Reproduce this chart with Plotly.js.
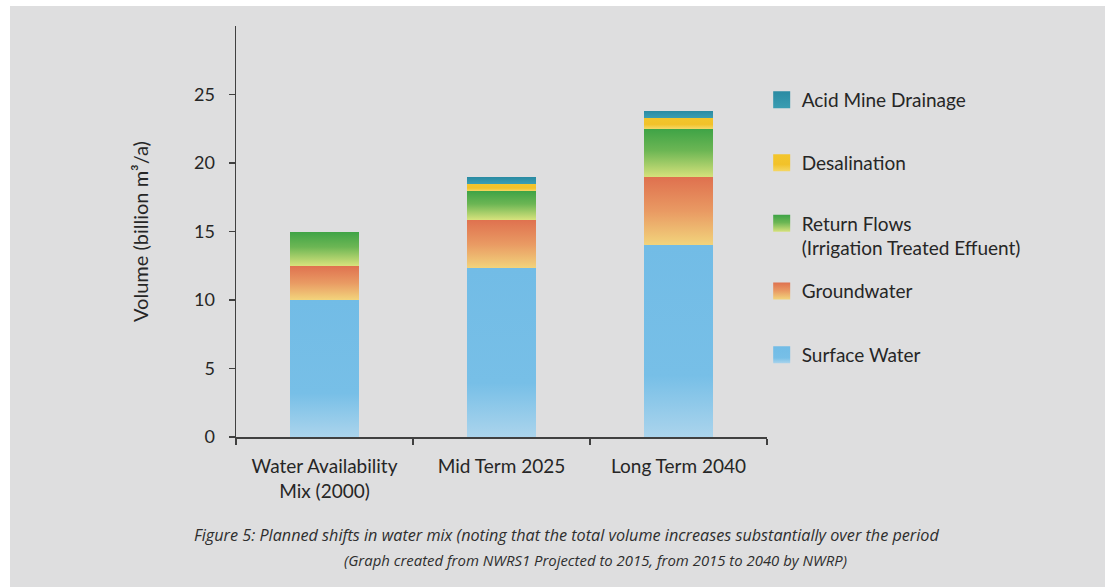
<!DOCTYPE html>
<html>
<head>
<meta charset="utf-8">
<script src="https://cdn.plot.ly/plotly-3.0.1.min.js"></script>
<style>
  html, body { margin: 0; padding: 0; background: #ffffff; width: 1105px; height: 587px; overflow: hidden; }
  #chart { position: absolute; left: 10px; top: 6px; width: 1095px; height: 581px; }
</style>
</head>
<body>
<div id="chart"></div>
<script>
// ---- data ----
var categories = ["Water Availability<br>Mix (2000)", "Mid Term 2025", "Long Term 2040"];
var surfaceWater = [10.0, 12.3, 14.0];
var groundwater = [2.5, 3.55, 4.95];
var returnFlows = [2.5, 2.1, 3.55];
var desalination = [0, 0.55, 0.8];
var acidMineDrainage = [0, 0.45, 0.5];
var yTickValues = [0, 5, 10, 15, 20, 25];
var seriesNames = ["Surface Water", "Groundwater", "Return Flows<br>(Irrigation Treated Effuent)", "Desalination", "Acid Mine Drainage"];

// ---- styles ----
var gradients = [
  [[0, "#72bce6"], [0.68, "#77bfe7"], [1, "#abd4ec"]],
  [[0, "#df714f"], [0.5, "#e99a63"], [1, "#f2d47c"]],
  [[0, "#3ea346"], [0.45, "#6cb654"], [1, "#d7e27c"]],
  [[0, "#f3c52c"], [0.6, "#f2c22a"], [1, "#f5d765"]],
  [[0, "#2a8ba3"], [1, "#3a9db2"]]
];
var baseColors = ["#76bee6", "#e78a5a", "#5aae4e", "#f2c52e", "#2f93a9"];
var legendY = [0.1995, 0.355, 0.489, 0.667, 0.820];
var legendIds = ["legend5", "legend4", "legend3", "legend2", "legend"];

var values = [surfaceWater, groundwater, returnFlows, desalination, acidMineDrainage];
var font = "Lato, 'Open Sans', sans-serif";
var textColor = "#262626";

var traces = values.map(function (v, i) {
  return {
    type: "bar",
    name: seriesNames[i],
    x: categories,
    y: v,
    width: 0.39,
    legend: legendIds[i],
    marker: { color: baseColors[i], line: { width: 0 } },
    hoverinfo: "skip"
  };
});

var layout = {
  width: 1095,
  height: 581,
  margin: { l: 226, r: 338, t: 20, b: 150 },
  paper_bgcolor: "#dededf",
  plot_bgcolor: "rgba(0,0,0,0)",
  barmode: "stack",
  font: { family: font, size: 19, color: textColor },
  xaxis: {
    type: "category",
    range: [-0.5, 2.5],
    showgrid: false,
    zeroline: false,
    showline: true,
    linecolor: "#404040",
    linewidth: 1.5,
    ticks: "outside",
    tickson: "boundaries",
    ticklen: 6,
    tickcolor: "#404040",
    tickwidth: 1.5,
    ticklabelstandoff: 12,
    tickfont: { family: font, size: 19, color: textColor },
    fixedrange: true
  },
  yaxis: {
    range: [0, 30],
    tickvals: yTickValues,
    showgrid: false,
    zeroline: false,
    showline: true,
    linecolor: "#404040",
    linewidth: 1.5,
    ticks: "outside",
    ticklen: 6,
    tickcolor: "#404040",
    tickwidth: 1.5,
    ticklabelstandoff: 10,
    tickfont: { family: font, size: 18, color: textColor },
    title: { text: "Volume (billion m³/a)", font: { family: font, size: 20, color: textColor }, standoff: 40 },
    fixedrange: true
  },
  annotations: [
    {
      xref: "paper", yref: "paper", x: 0.623, y: -0.238, xanchor: "center", yanchor: "middle",
      showarrow: false,
      text: "<i>Figure 5: Planned shifts in water mix (noting that the total volume increases substantially over the period</i>",
      font: { family: "'Open Sans', Lato, sans-serif", size: 16.2, color: "#2e2e2e" }
    },
    {
      xref: "paper", yref: "paper", x: 0.6775, y: -0.299, xanchor: "center", yanchor: "middle",
      showarrow: false,
      text: "<i>(Graph created from NWRS1 Projected to 2015, from 2015 to 2040 by NWRP)</i>",
      font: { family: "'Open Sans', Lato, sans-serif", size: 14.9, color: "#2e2e2e" }
    }
  ],
  showlegend: true
};

legendIds.forEach(function (id, i) {
  layout[id] = {
    x: 0.99, y: legendY[i], xanchor: "left", yanchor: "middle",
    valign: "top",
    bgcolor: "rgba(0,0,0,0)",
    borderwidth: 0,
    font: { family: font, size: 19, color: textColor },
    itemclick: false, itemdoubleclick: false
  };
});

function traceIndexOf(g) {
  var d = g.__data__;
  if (!d) return null;
  var c = d[0];
  if (c && c.trace) return c.trace.index;
  if (c && c[0] && c[0].trace) return c[0].trace.index;
  if (d.trace) return d.trace.index;
  return null;
}

function applyGradients(gd) {
  var svg = gd.querySelector("svg.main-svg");
  var defs = svg.querySelector("defs");
  var ns = "http://www.w3.org/2000/svg";
  gradients.forEach(function (stops, i) {
    var id = "grad" + i;
    var old = defs.querySelector("#" + id);
    if (old) old.remove();
    var lg = document.createElementNS(ns, "linearGradient");
    lg.setAttribute("id", id);
    lg.setAttribute("x1", "0"); lg.setAttribute("y1", "0");
    lg.setAttribute("x2", "0"); lg.setAttribute("y2", "1");
    stops.forEach(function (s) {
      var st = document.createElementNS(ns, "stop");
      st.setAttribute("offset", s[0]);
      st.setAttribute("stop-color", s[1]);
      lg.appendChild(st);
    });
    defs.appendChild(lg);
  });
  var barTraces = gd.querySelectorAll(".barlayer .trace");
  barTraces.forEach(function (t, i) {
    t.querySelectorAll(".point path").forEach(function (p) {
      p.style.fill = "url(#grad" + i + ")";
    });
  });
  gd.querySelectorAll("g.traces").forEach(function (g) {
    var idx = traceIndexOf(g);
    if (idx === null || idx === undefined) {
      var txt = (g.querySelector(".legendtext") || {}).textContent || "";
      seriesNames.forEach(function (n, k) {
        if (txt.indexOf(n.split("<br>")[0]) === 0) idx = k;
      });
    }
    if (idx === null || idx === undefined) return;
    g.querySelectorAll(".legendpoints path").forEach(function (p) {
      p.setAttribute("d", "M8.5,8.5H-8.5V-8.5H8.5Z");
      p.style.fill = "url(#grad" + idx + ")";
      p.style.stroke = "none";
    });
  });
}

var gd = document.getElementById("chart");
Plotly.newPlot(gd, traces, layout, { staticPlot: true, displayModeBar: false }).then(function () {
  applyGradients(gd);
});
</script>
</body>
</html>
